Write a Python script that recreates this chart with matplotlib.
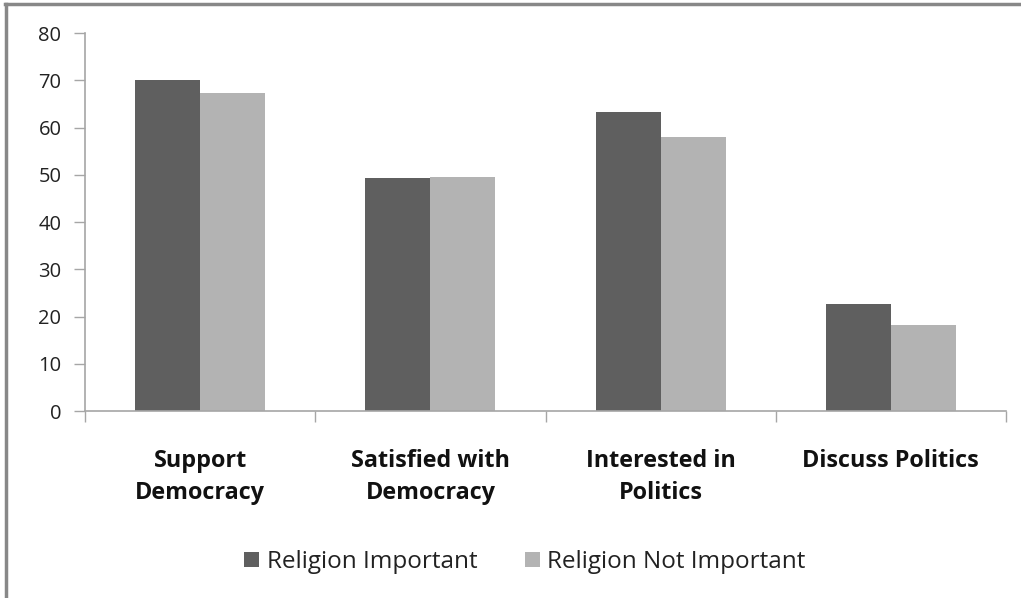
import matplotlib.pyplot as plt
import numpy as np

plt.rcParams['font.family'] = ['Open Sans', 'DejaVu Sans']

categories = ["Support\nDemocracy", "Satisfied with\nDemocracy", "Interested in\nPolitics", "Discuss Politics"]
religion_important = [70.0, 49.3, 63.2, 22.6]
religion_not_important = [67.4, 49.6, 58.0, 18.3]
yticks = [0, 10, 20, 30, 40, 50, 60, 70, 80]

dark = "#5f5f5f"
light = "#b3b3b3"
axis_grey = "#a6a6a6"

fig = plt.figure(figsize=(10.21, 5.98), dpi=100)
ax = fig.add_axes([0.0833, 0.3127, 0.9020, 0.6321])

x = np.arange(len(categories))
w = 0.282
ax.bar(x - w / 2, religion_important, w, color=dark, label="Religion Important")
ax.bar(x + w / 2, religion_not_important, w, color=light, label="Religion Not Important")

ax.set_xlim(-0.5, len(categories) - 0.5)
ax.set_ylim(0, 80)
ax.set_yticks(yticks)
ax.tick_params(axis='y', length=8, width=1, color=axis_grey, labelsize=14.5,
               labelcolor="#222222", pad=9)

# category ticks sit between groups, labels at group centres
ax.set_xticks(np.arange(len(categories) + 1) - 0.5)
ax.set_xticklabels([])
ax.set_xticks(x, minor=True)
ax.set_xticklabels(categories, minor=True, fontsize=16.8, fontweight='bold',
                   color="#111111", linespacing=1.45)
ax.tick_params(axis='x', which='major', length=8, width=1, color=axis_grey)
ax.tick_params(axis='x', which='minor', length=0, pad=27)

for side in ("top", "right"):
    ax.spines[side].set_visible(False)
for side in ("left", "bottom"):
    ax.spines[side].set_color(axis_grey)
    ax.spines[side].set_linewidth(1.2)

fig.legend(loc='center', bbox_to_anchor=(0.514, 0.06), ncol=2, frameon=False,
           fontsize=17.5, handlelength=0.62, handleheight=0.62, handletextpad=0.3,
           columnspacing=1.95, labelcolor="#222222")

# frame lines along the top and left edge of the figure
fig.add_artist(plt.Line2D([0.005, 1.0], [0.993, 0.993], color="#888888", lw=2.5))
fig.add_artist(plt.Line2D([0.006, 0.006], [0.0, 0.993], color="#888888", lw=2.5))

fig.savefig("out.png", dpi=100)
